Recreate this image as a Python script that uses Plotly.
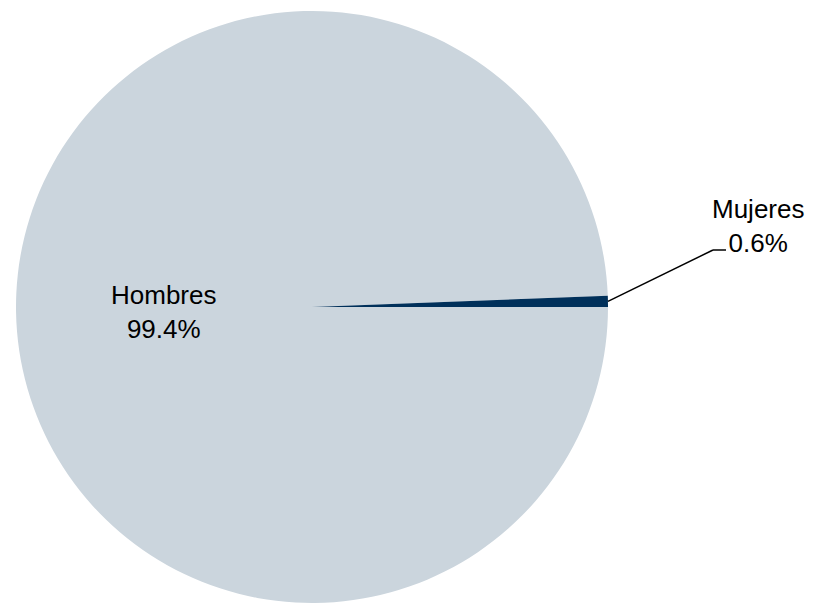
import math
import plotly.graph_objects as go

labels = ["Hombres", "Mujeres"]
values = [99.4, 0.6]
colors = ["#CBD5DD", "#00305A"]

W, H = 815, 603
OFF = 8  # page body margin
cx, cy, r = 312 - OFF, 307 - OFF, 296

fig = go.Figure(go.Pie(
    labels=labels, values=values, sort=False,
    direction="clockwise", rotation=90,
    marker=dict(colors=colors, line=dict(width=0)),
    textinfo="none", hoverinfo="label+percent",
    domain=dict(x=[(cx - r) / W, (cx + r) / W], y=[(H - cy - r) / H, (H - cy + r) / H]),
    showlegend=False,
))

def px(x):
    return (x - OFF) / W

def py(y):
    return 1 - (y - OFF) / H

total = sum(values)
font = dict(family="Liberation Sans, Arial, sans-serif", size=26, color="#000000")

# Hombres label inside
fig.add_annotation(x=px(163), y=py(312), xref="paper", yref="paper",
                   xanchor="center", yanchor="middle",
                   text=f"{labels[0]}<br>{values[0] / total * 100:.1f}%",
                   showarrow=False, font=font, align="center")

# Mujeres label outside with leader line
mid = (values[1] / total) * 360 / 2
sx = 312 + r * math.cos(math.radians(mid))
sy = 307 - r * math.sin(math.radians(mid))
fig.add_shape(type="line", xref="paper", yref="paper",
              x0=px(sx), y0=py(sy), x1=px(713), y1=py(250),
              line=dict(color="#000000", width=1.5))
fig.add_shape(type="line", xref="paper", yref="paper",
              x0=px(713), y0=py(250), x1=px(726), y1=py(250),
              line=dict(color="#000000", width=1.5))
fig.add_annotation(x=px(758), y=py(226), xref="paper", yref="paper",
                   xanchor="center", yanchor="middle",
                   text=f"{labels[1]}<br>{values[1] / total * 100:.1f}%",
                   showarrow=False, font=font, align="center")

fig.update_layout(width=W, height=H, margin=dict(l=0, r=0, t=0, b=0),
                  paper_bgcolor="white", plot_bgcolor="white")

fig.write_html("out.html")
